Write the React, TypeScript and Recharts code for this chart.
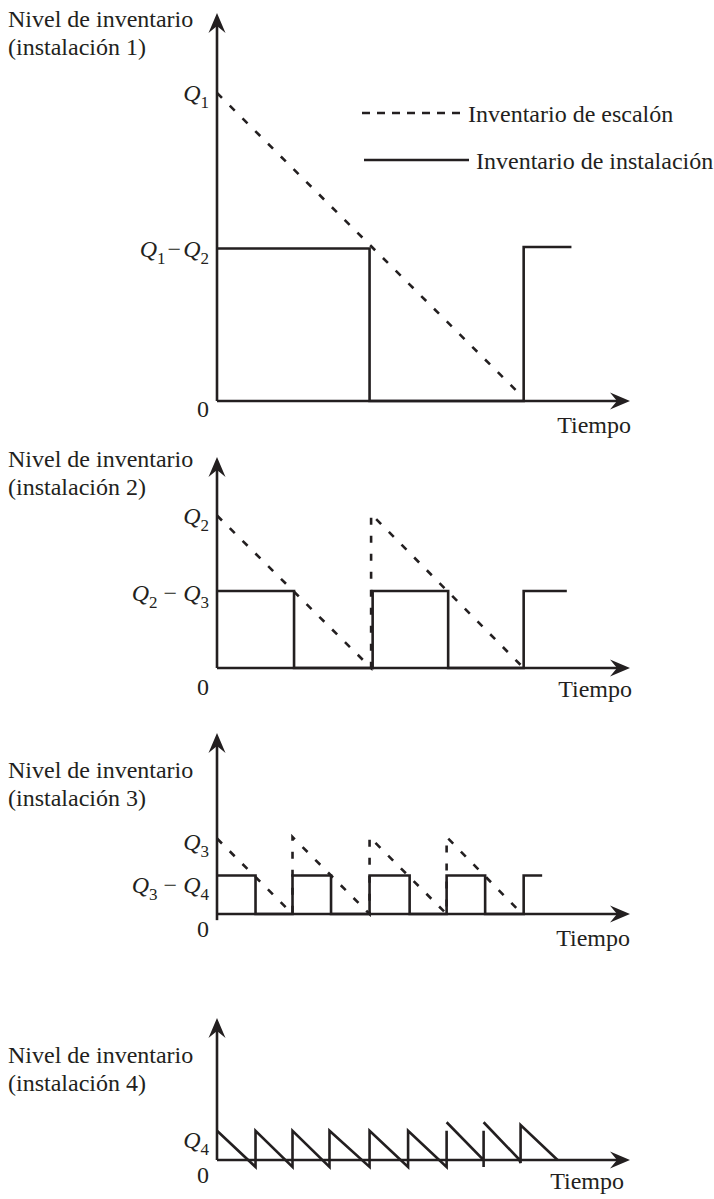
import React from "react";
import { LineChart, Line, XAxis, YAxis, ReferenceLine, Legend } from "recharts";

const INK = "#231f20";
const FONT = '"Liberation Serif", "Times New Roman", serif';
const UNIT = 154; // px por unidad (ambos ejes)
const X_MAX = 2.68;
const PLOT_LEFT = 217;
const PLOT_RIGHT = 630;

// Instalación 1
const p1EscalonT = [0, 1.94];
const p1EscalonV = [2.0, 0.07];
const p1InstT = [0, 0.99, 0.99, 1.99, 1.99, 2.3];
const p1InstV = [0.99, 0.99, 0, 0, 1.0, 1.0];
const p1Ticks = [0, 0.99, 2.0];
const p1TickLabels = ["0", "Q1−Q2", "Q1"];

// Instalación 2
const p2EscalonT = [0, 1.0, 1.0, 1.97];
const p2EscalonV = [0.99, 0, 1.0, 0.02];
const p2InstT = [0, 0.5, 0.5, 1.01, 1.01, 1.5, 1.5, 1.99, 1.99, 2.27];
const p2InstV = [0.5, 0.5, 0, 0, 0.5, 0.5, 0, 0, 0.5, 0.5];
const p2Ticks = [0, 0.5, 0.99];
const p2TickLabels = ["0", "Q2 − Q3", "Q2"];

// Instalación 3
const p3EscalonT = [0, 0.49, 0.49, 0.99, 0.99, 1.49, 1.49, 1.98];
const p3EscalonV = [0.49, 0, 0.5, 0, 0.5, 0, 0.5, 0];
const p3InstT = [0, 0.25, 0.25, 0.49, 0.49, 0.74, 0.74, 0.99, 0.99, 1.25, 1.25, 1.49, 1.49, 1.74, 1.74, 1.99, 1.99, 2.11];
const p3InstV = [0.25, 0.25, 0, 0, 0.25, 0.25, 0, 0, 0.25, 0.25, 0, 0, 0.25, 0.25, 0, 0, 0.25, 0.25];
const p3Ticks = [0, 0.25, 0.49];
const p3TickLabels = ["0", "Q3 − Q4", "Q3"];

// Instalación 4 (null = trazo cortado)
const p4InstT = [0, 0.25, 0.25, 0.49, 0.49, 0.73, 0.73, 0.99, 0.99, 1.24, 1.24, 1.49, 1.49, 1.49, 1.49, 1.73, 1.73, 1.73, 1.73, 1.73, 1.96, 1.97, 1.97, 2.21];
const p4InstV = [0.19, -0.045, 0.19, -0.045, 0.19, -0.045, 0.19, -0.045, 0.19, -0.045, 0.19, -0.045, 0.19, null, 0.245, 0, -0.045, 0.19, null, 0.245, 0.005, -0.02, 0.227, 0];
const p4Ticks = [0, 0.19];
const p4TickLabels = ["0", "Q4"];

const legendNames = ["Inventario de escalón", "Inventario de instalación"];

type Pt = { t: number; v: number | null };
const zip = (ts: number[], vs: (number | null)[]): Pt[] => ts.map((t, i) => ({ t, v: vs[i] }));

type Panel = {
  n: number;
  tipY: number;
  axisY: number;
  below: number;
  yAxisFrom: number;
  ticks: number[];
  tickLabels: string[];
  tickDy: number[];
  titleDy: number;
  tiempoDx: number;
  tiempoDy: number;
  escalon?: Pt[];
  inst: Pt[];
  legend?: boolean;
};

const panels: Panel[] = [
  { n: 1, tipY: 13, axisY: 401, below: 43, yAxisFrom: 0, ticks: p1Ticks, tickLabels: p1TickLabels, tickDy: [16, 8, 8], titleDy: 14, tiempoDx: 1, tiempoDy: 32, escalon: zip(p1EscalonT, p1EscalonV), inst: zip(p1InstT, p1InstV), legend: true },
  { n: 2, tipY: 457, axisY: 668, below: 43, yAxisFrom: 0, ticks: p2Ticks, tickLabels: p2TickLabels, tickDy: [27, 10, 8], titleDy: 10, tiempoDx: 2, tiempoDy: 29, escalon: zip(p2EscalonT, p2EscalonV), inst: zip(p2InstT, p2InstV) },
  { n: 3, tipY: 733, axisY: 914, below: 43, yAxisFrom: -0.04, ticks: p3Ticks, tickLabels: p3TickLabels, tickDy: [23, 17, 11], titleDy: 45, tiempoDx: 0, tiempoDy: 32, escalon: zip(p3EscalonT, p3EscalonV), inst: zip(p3InstT, p3InstV) },
  { n: 4, tipY: 1018, axisY: 1160, below: 38, yAxisFrom: 0, ticks: p4Ticks, tickLabels: p4TickLabels, tickDy: [23, 17], titleDy: 45, tiempoDx: -6, tiempoDy: 29, inst: zip(p4InstT, p4InstV) },
];

// Q con subíndices: "Q1−Q2" -> Q cursiva + 1 pequeño ...
function segments(label: string) {
  const segs: { text: string; italic?: boolean; sub?: boolean }[] = [];
  for (let i = 0; i < label.length; i++) {
    const c = label[i];
    const last = segs[segs.length - 1];
    if (c === "Q") segs.push({ text: c, italic: true });
    else if (/\d/.test(c) && label[i - 1] === "Q") segs.push({ text: c, sub: true });
    else if (last && !last.italic && !last.sub) last.text += c;
    else segs.push({ text: c });
  }
  return segs;
}

function MathLabel({ x, y, label }: { x: number; y: number; label: string }) {
  const segs = segments(label);
  let shift = 0;
  return (
    <text x={x} y={y} textAnchor="end" fontFamily={FONT} fontSize={24} fill={INK} style={{ whiteSpace: "pre" }}>
      {segs.map((s, i) => {
        const target = s.sub ? 7 : 0;
        const dy = target - shift;
        shift = target;
        const tight = s.text === "−" || (s.italic && segs[i - 1]?.text === "−");
        return (
          <tspan key={i} dy={dy || undefined} dx={tight ? 2 : undefined} fontStyle={s.italic ? "italic" : undefined} fontSize={s.sub ? 17 : undefined}>
            {s.text}
          </tspan>
        );
      })}
    </text>
  );
}

function arrowParts(x1: number, y1: number, x2: number, y2: number) {
  const len = Math.hypot(x2 - x1, y2 - y1) || 1;
  const ux = (x2 - x1) / len;
  const uy = (y2 - y1) / len;
  const L = 20, W = 8.5, N = 13;
  const bx = x2 - ux * L, by = y2 - uy * L;
  const nx = x2 - ux * N, ny = y2 - uy * N;
  const pts = [
    [x2, y2],
    [bx - uy * W, by + ux * W],
    [nx, ny],
    [bx + uy * W, by - ux * W],
  ].map((q) => q.join(",")).join(" ");
  return { nx, ny, pts };
}

function XAxisArrow(props: any) {
  const { x1, y1, x2, y2, panel } = props;
  const a = arrowParts(x1, y1, x2, y2);
  return (
    <g>
      <line x1={x1} y1={y1} x2={a.nx} y2={a.ny} stroke={INK} strokeWidth={2.6} />
      <polygon points={a.pts} fill={INK} />
      <text x={x2 + panel.tiempoDx} y={y2 + panel.tiempoDy} textAnchor="end" fontFamily={FONT} fontSize={24} fill={INK}>
        Tiempo
      </text>
    </g>
  );
}

function YAxisArrow(props: any) {
  const { x1, y1, x2, y2, panel } = props;
  const a = arrowParts(x1, y1, x2, y2);
  return (
    <g>
      <line x1={x1} y1={y1} x2={a.nx} y2={a.ny} stroke={INK} strokeWidth={2.6} />
      <polygon points={a.pts} fill={INK} />
      <text x={8} y={y2 + panel.titleDy} fontFamily={FONT} fontSize={24} fill={INK}>
        Nivel de inventario
      </text>
      <text x={8} y={y2 + panel.titleDy + 28} fontFamily={FONT} fontSize={24} fill={INK}>
        {`(instalación ${panel.n})`}
      </text>
    </g>
  );
}

const legendRows = [
  { y: 22, x1: 7, x2: 108, tx: 113 },
  { y: 69, x1: 9, x2: 114, tx: 121 },
];

function LegendBox(props: any) {
  const payload = props.payload ?? [];
  return (
    <svg width={359} height={85} style={{ display: "block" }}>
      {legendNames.map((name, i) => {
        const entry = payload.find((e: any) => e.value === name);
        const dashed = i === 0 || !!entry?.payload?.strokeDasharray;
        const r = legendRows[i];
        return (
          <g key={name}>
            <line x1={r.x1} y1={r.y} x2={r.x2} y2={r.y} stroke={INK} strokeWidth={2.6} strokeDasharray={dashed ? "8 7" : undefined} />
            <text x={r.tx} y={r.y + 9} fontFamily={FONT} fontSize={24} fill={INK}>
              {name}
            </text>
          </g>
        );
      })}
    </svg>
  );
}

function PanelChart({ p }: { p: Panel }) {
  const MT = 12;
  const MB = 2;
  const yMax = (p.axisY - p.tipY) / UNIT;
  const yMin = -p.below / UNIT;
  const plotH = p.axisY - p.tipY + p.below;

  const renderTick = (t: any) => {
    const idx = p.ticks.indexOf(t.payload.value);
    if (idx < 0) return <g />;
    return <MathLabel x={t.x} y={t.y + p.tickDy[idx]} label={p.tickLabels[idx]} />;
  };

  return (
    <div style={{ position: "absolute", left: 0, top: p.tipY - MT }}>
      <LineChart
        width={714}
        height={plotH + MT + MB}
        margin={{ top: MT, right: 714 - PLOT_RIGHT, bottom: MB, left: 0 }}
      >
        <XAxis type="number" dataKey="t" domain={[0, X_MAX]} hide />
        <YAxis
          type="number"
          domain={[yMin, yMax]}
          ticks={p.ticks}
          interval={0}
          width={PLOT_LEFT}
          axisLine={false}
          tickLine={false}
          tick={renderTick}
        />
        <ReferenceLine
          segment={[{ x: 0, y: 0 }, { x: X_MAX, y: 0 }]}
          ifOverflow="visible"
          shape={(s: any) => <XAxisArrow {...s} panel={p} />}
        />
        <ReferenceLine
          segment={[{ x: 0, y: p.yAxisFrom }, { x: 0, y: yMax }]}
          ifOverflow="visible"
          shape={(s: any) => <YAxisArrow {...s} panel={p} />}
        />
        {p.escalon && (
          <Line
            data={p.escalon}
            dataKey="v"
            name={legendNames[0]}
            type="linear"
            stroke={INK}
            strokeWidth={2.6}
            strokeDasharray="7 11"
            dot={false}
            activeDot={false}
            isAnimationActive={false}
          />
        )}
        <Line
          data={p.inst}
          dataKey="v"
          name={legendNames[1]}
          type="linear"
          stroke={INK}
          strokeWidth={2.6}
          dot={false}
          activeDot={false}
          isAnimationActive={false}
        />
        {p.legend && (
          <Legend
            layout="vertical"
            align="center"
            verticalAlign="middle"
            wrapperStyle={{ left: 355, top: 90, width: 359, height: 85 }}
            content={(lp: any) => <LegendBox {...lp} />}
          />
        )}
      </LineChart>
    </div>
  );
}

export default function App() {
  return (
    <div style={{ position: "absolute", left: 0, top: 0, width: 714, height: 1199, background: "#fff" }}>
      {panels.map((p) => (
        <PanelChart key={p.n} p={p} />
      ))}
    </div>
  );
}
